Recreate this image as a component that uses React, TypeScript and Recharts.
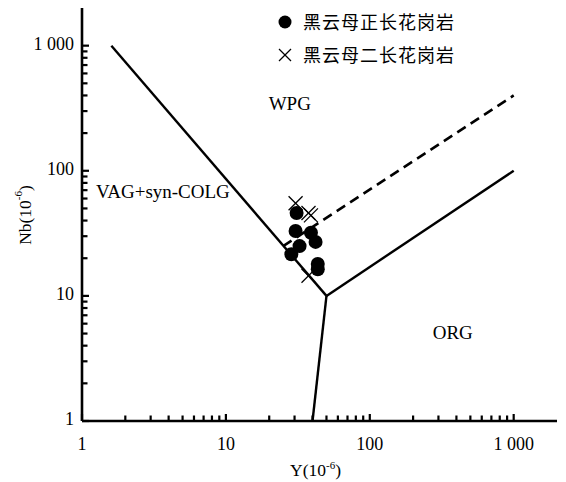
import React from "react";
import {
  ScatterChart,
  Scatter,
  XAxis,
  YAxis,
  ReferenceLine,
  ReferenceDot,
  Legend,
} from "recharts";

// Y (ppm) vs Nb (ppm), Pearce-style discrimination diagram
const xTicks = [1, 2, 3, 4, 5, 6, 7, 8, 9, 10, 20, 30, 40, 50, 60, 70, 80, 90, 100, 200, 300, 400, 500, 600, 700, 800, 900, 1000];
const yTicks = [1, 2, 3, 4, 5, 6, 7, 8, 9, 10, 20, 30, 40, 50, 60, 70, 80, 90, 100, 200, 300, 400, 500, 600, 700, 800, 900, 1000];
const tickLabels: Record<number, string> = { 1: "1", 10: "10", 100: "100", 1000: "1 000" };

const syenogranite = [
  { yppm: 31, nb: 46 },
  { yppm: 30.5, nb: 33 },
  { yppm: 39, nb: 32 },
  { yppm: 42, nb: 27 },
  { yppm: 32.5, nb: 25 },
  { yppm: 28.5, nb: 21.5 },
  { yppm: 43.5, nb: 18 },
  { yppm: 43.5, nb: 16.3 },
];

const monzogranite = [
  { yppm: 30.5, nb: 55 },
  { yppm: 37.5, nb: 46 },
  { yppm: 39, nb: 44 },
  { yppm: 37.5, nb: 14.5 },
];

const vagBoundary = [{ x: 1.6, y: 1000 }, { x: 50, y: 10 }];
const orgBoundary = [{ x: 50, y: 10 }, { x: 1000, y: 100 }];
const lowerBoundary = [{ x: 50, y: 10 }, { x: 40, y: 1 }];
const wpgDashed = [{ x: 25, y: 25 }, { x: 1000, y: 400 }];

const fieldLabels = [
  { name: "WPG", x: 27.8, y: 345 },
  { name: "VAG+syn-COLG", x: 3.65, y: 68 },
  { name: "ORG", x: 377, y: 5.1 },
];

const serif = "'Liberation Serif', 'Times New Roman', serif";
const cjk = "'Noto Sans CJK SC', sans-serif";

// tick marks point into the plot, longer at each decade
const XTick = (props: any) => {
  const { x, y, payload } = props;
  const label = tickLabels[payload.value];
  return (
    <g>
      <line x1={x} x2={x} y1={y} y2={y - (label ? 7 : 5.5)} stroke="#000" strokeWidth={2.2} />
      {label && (
        <text x={x} y={y + 29} textAnchor="middle" fontFamily={serif} fontSize={18} fill="#000">
          {label}
        </text>
      )}
    </g>
  );
};

const YTick = (props: any) => {
  const { x, y, payload } = props;
  const label = tickLabels[payload.value];
  return (
    <g>
      <line x1={x} x2={x + (label ? 7 : 5.5)} y1={y} y2={y} stroke="#000" strokeWidth={2.2} />
      {label && (
        <text x={x - 8} y={y + 4} textAnchor="end" fontFamily={serif} fontSize={18} fill="#000">
          {label}
        </text>
      )}
    </g>
  );
};

const Dot = (props: any) => <circle cx={props.cx} cy={props.cy} r={7} fill="#000" />;

const Cross = (props: any) => {
  const { cx, cy } = props;
  const s = 7;
  return (
    <g stroke="#000" strokeWidth={1.3}>
      <line x1={cx - s} y1={cy - s} x2={cx + s} y2={cy + s} />
      <line x1={cx - s} y1={cy + s} x2={cx + s} y2={cy - s} />
    </g>
  );
};

const LegendBox = () => (
  <div style={{ fontFamily: cjk, fontSize: 18, color: "#000", lineHeight: "33px", letterSpacing: 1 }}>
    <div style={{ display: "flex", alignItems: "center", height: 33 }}>
      <svg width={24} height={20}>
        <circle cx={11} cy={10} r={6.5} fill="#000" />
      </svg>
      <span style={{ marginLeft: 5 }}>黑云母正长花岗岩</span>
    </div>
    <div style={{ display: "flex", alignItems: "center", height: 33 }}>
      <svg width={24} height={20}>
        <g stroke="#000" strokeWidth={1.3}>
          <line x1={5} y1={4} x2={17} y2={16} />
          <line x1={5} y1={16} x2={17} y2={4} />
        </g>
      </svg>
      <span style={{ marginLeft: 5 }}>黑云母二长花岗岩</span>
    </div>
  </div>
);

export default function App() {
  return (
    <div style={{ position: "absolute", left: 0, top: 0, width: 566, height: 482, background: "#fff" }}>
      <ScatterChart width={566} height={482} margin={{ top: 8, right: 9, bottom: 0, left: 0 }}>
        <XAxis
          type="number"
          dataKey="yppm"
          scale="log"
          domain={[1, 2000]}
          ticks={xTicks}
          interval={0}
          allowDataOverflow
          height={61}
          tickSize={0}
          tickMargin={0}
          tickLine={false}
          tick={<XTick />}
          axisLine={{ stroke: "#000", strokeWidth: 2.6 }}
          label={{
            content: (p: any) => {
              const vb = p.viewBox;
              return (
                <text x={vb.x + vb.width / 2 - 4} y={vb.y + 55} textAnchor="middle" fontFamily={serif} fontSize={17.5} fill="#000">
                  Y(10<tspan dy={-7} fontSize={11}>-6</tspan><tspan dy={7}>)</tspan>
                </text>
              );
            },
          }}
        />
        <YAxis
          type="number"
          dataKey="nb"
          scale="log"
          domain={[1, 2000]}
          ticks={yTicks}
          interval={0}
          allowDataOverflow
          width={82}
          tickSize={0}
          tickMargin={0}
          tickLine={false}
          tick={<YTick />}
          axisLine={{ stroke: "#000", strokeWidth: 2.6 }}
          label={{
            content: (p: any) => {
              const vb = p.viewBox;
              const cx = vb.x + 25;
              const cy = vb.y + 207;
              return (
                <text
                  x={cx}
                  y={cy}
                  transform={`rotate(-90 ${cx} ${cy})`}
                  textAnchor="middle"
                  dominantBaseline="central"
                  fontFamily={serif}
                  fontSize={17.5}
                  fill="#000"
                >
                  Nb(10<tspan dy={-7} fontSize={11}>-6</tspan><tspan dy={7}>)</tspan>
                </text>
              );
            },
          }}
        />
        <ReferenceLine segment={vagBoundary} stroke="#000" strokeWidth={2.4} ifOverflow="visible" />
        <ReferenceLine segment={orgBoundary} stroke="#000" strokeWidth={2.4} ifOverflow="visible" />
        <ReferenceLine segment={lowerBoundary} stroke="#000" strokeWidth={2.4} ifOverflow="visible" />
        <ReferenceLine
          segment={wpgDashed}
          stroke="#000"
          strokeWidth={2.6}
          strokeDasharray="10 6"
          ifOverflow="visible"
        />
        {fieldLabels.map((f) => (
          <ReferenceDot
            key={f.name}
            x={f.x}
            y={f.y}
            r={0}
            stroke="none"
            fill="none"
            ifOverflow="visible"
            label={{
              value: f.name,
              position: "center",
              fontFamily: serif,
              fontSize: 19,
              fill: "#000",
            }}
          />
        ))}
        <Scatter data={syenogranite} shape={<Dot />} isAnimationActive={false} />
        <Scatter data={monzogranite} shape={<Cross />} isAnimationActive={false} />
        <Legend
          layout="vertical"
          align="center"
          verticalAlign="middle"
          content={<LegendBox />}
          wrapperStyle={{ left: 274, top: 5, width: "auto", height: "auto" }}
        />
      </ScatterChart>
    </div>
  );
}
